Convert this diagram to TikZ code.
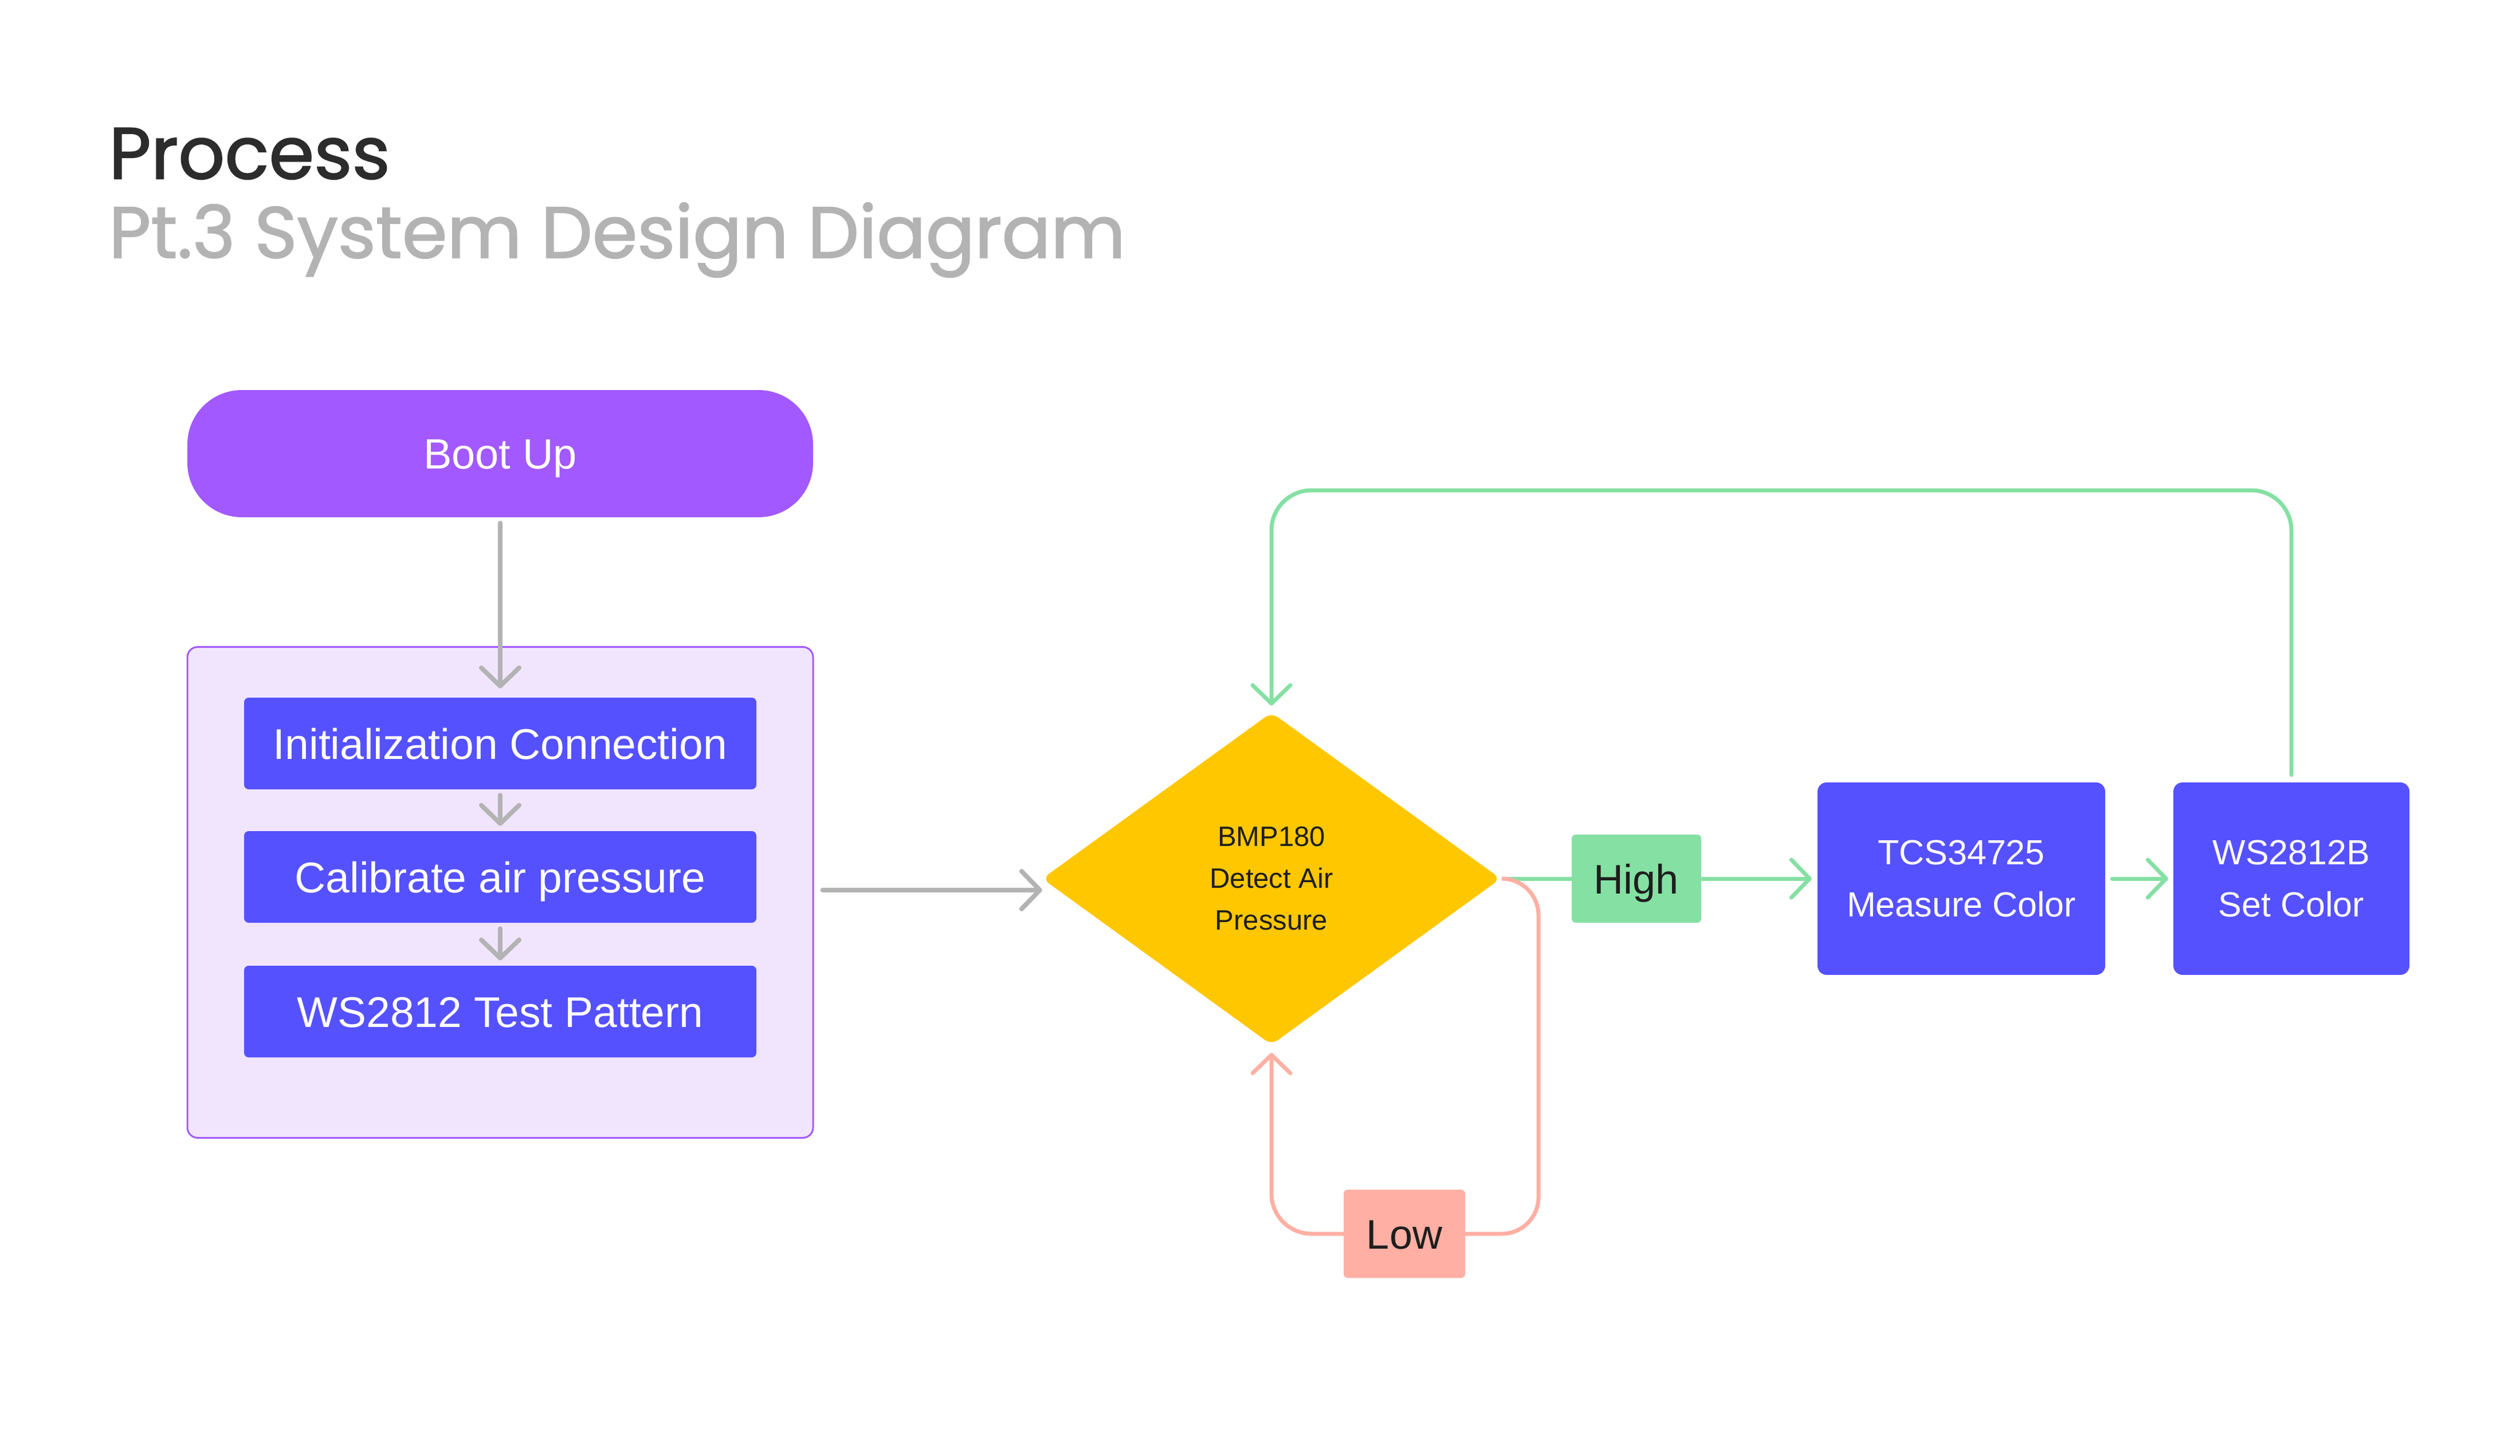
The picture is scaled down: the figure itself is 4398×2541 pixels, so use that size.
\documentclass[tikz,border=0pt]{standalone}
\usepackage{fontspec}
\setmainfont{Liberation Sans}
\newfontfamily\titlefont[FakeBold=1.6]{Poppins}
\usetikzlibrary{arrows.meta,shapes.geometric}
\definecolor{bootpurple}{HTML}{A259FF}
\definecolor{contfill}{HTML}{F1E5FE}
\definecolor{bluebox}{HTML}{5551FF}
\definecolor{diayellow}{HTML}{FFC700}
\definecolor{lgreen}{HTML}{85E0A3}
\definecolor{lpink}{HTML}{FFAFA3}
\definecolor{lgray}{HTML}{B3B3B3}
\definecolor{titlegray}{HTML}{2C2C2C}
\definecolor{darktext}{HTML}{1E1E1E}
\begin{document}
\begin{tikzpicture}[x=1pt,y=-1pt,
  barb/.style={-{Straight Barb[length=32pt,width=66pt,round]}},
  grayline/.style={draw=lgray,line width=8pt,line cap=round},
  greenline/.style={draw=lgreen,line width=7pt,line cap=round},
  pinkline/.style={draw=lpink,line width=7pt,line cap=round},
  stepbox/.style={fill=bluebox,text=white,inner sep=0pt,rounded corners=8pt,
    minimum width=894pt,minimum height=160pt,text height=54pt,text depth=0pt,
    font=\fontsize{75}{90}\selectfont},
  devbox/.style={fill=bluebox,text=white,inner sep=0pt,rounded corners=16pt,
    minimum height=336pt,align=center,font=\fontsize{61}{91}\selectfont},
  tagbox/.style={text=darktext,inner sep=0pt,rounded corners=7pt,
    minimum height=154pt,text height=52pt,text depth=0pt,
    font=\fontsize{72}{85}\selectfont}
]
\useasboundingbox (0,0) rectangle (4398,2541);

% titles
\node[anchor=base west,inner sep=0pt,text=titlegray,font=\titlefont\fontsize{127}{150}\selectfont] (title) at (190,312) {Process};
\node[anchor=base west,inner sep=0pt,text=lgray,font=\titlefont\fontsize{126.5}{150}\selectfont] (subtitle) at (190,450) {Pt.3 System Design Diagram};

% left column
\node[fill=bootpurple,text=white,inner sep=0pt,rounded corners=95pt,minimum width=1092pt,minimum height=222pt,text height=53pt,text depth=0pt,font=\fontsize{74}{90}\selectfont] (boot) at (873,792) {Boot Up};
\node[draw=bootpurple,line width=3pt,fill=contfill,rounded corners=18pt,minimum width=1092pt,minimum height=857pt,inner sep=0pt] (cont) at (873,1558) {};
\node[stepbox] (init) at (873,1298) {Initialization Connection};
\node[stepbox] (calib) at (873,1531) {Calibrate air pressure};
\node[stepbox] (test) at (873,1766) {WS2812 Test Pattern};

\draw[grayline,barb] ([yshift=-10pt]boot.south) -- ([yshift=16pt]init.north);
\draw[grayline,barb] ([yshift=-10pt]init.south) -- ([yshift=9pt]calib.north);
\draw[grayline,barb] ([yshift=-10pt]calib.south) -- ([yshift=9pt]test.north);

% decision
\node[shape=diamond,fill=diayellow,inner sep=0pt,minimum width=800pt,minimum height=580pt,rounded corners=14pt,text=darktext,align=center,font=\fontsize{49}{73}\selectfont] (dia) at (2219,1534) {BMP180\\Detect Air\\Pressure};

\coordinate (gs) at ([xshift=15pt,yshift=4pt]cont.east);
\draw[grayline,barb] (gs) -- (gs -| dia.west);

% labels and device boxes
\node[tagbox,fill=lgreen,minimum width=226pt] (high) at (2856,1534) {High};
\node[tagbox,fill=lpink,minimum width=212pt] (low) at (2451,2154) {Low};
\node[devbox,minimum width=502pt] (tcs) at (3423,1534) {TCS34725\\Measure Color};
\node[devbox,minimum width=412pt] (ws) at (3999,1534) {WS2812B\\Set Color};

% green connectors
\draw[greenline] ([xshift=10pt]dia.east) -- (high.west);
\draw[greenline,barb] (high.east) -- ([xshift=-10pt]tcs.west);
\draw[greenline,barb] ([xshift=12pt]tcs.east) -- ([xshift=-9pt]ws.west);
\coordinate (looptop) at (dia.north |- 0,856);
\draw[greenline,barb,rounded corners=70pt] ([yshift=13pt]ws.north) -- (ws.north |- looptop) -- (looptop) -- ([yshift=12pt]dia.north);

% pink loop
\coordinate (pk1) at (2685,1534);
\coordinate (pk2) at (2685,2154);
\coordinate (pk3) at (2219,2154);
\draw[pinkline,rounded corners=64pt] ([xshift=8pt]dia.east) -- (pk1) -- (pk2) -- (low.east);
\draw[pinkline,barb,rounded corners=70pt] (low.west) -- (pk3) -- ([yshift=-14pt]dia.south);
\end{tikzpicture}
\end{document}
